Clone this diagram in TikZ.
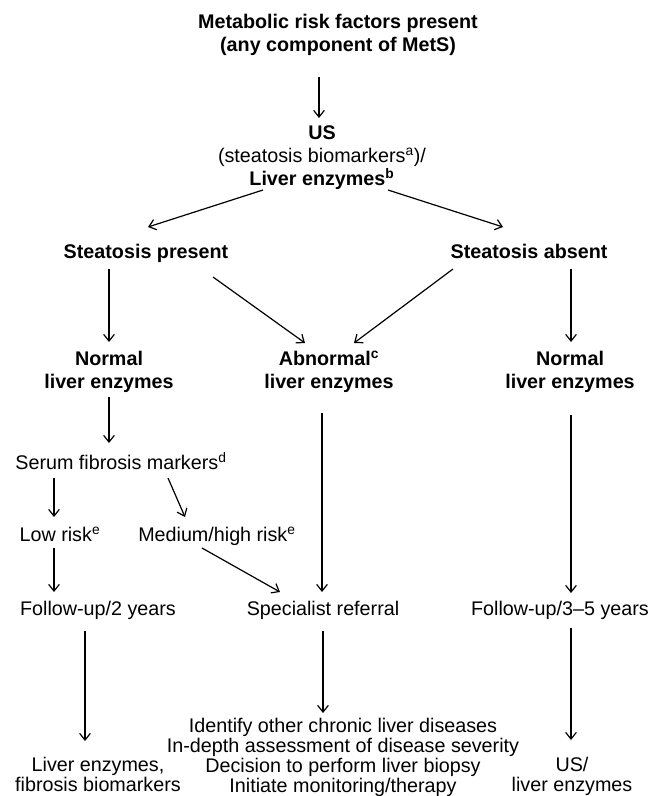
\documentclass[tikz,border=0pt]{standalone}
\usepackage{fontspec}
\setmainfont{Liberation Sans}
\usetikzlibrary{arrows.meta,calc}

\newcommand{\flowtext}[5][]{\node[#1] (#2) at (#3, #4) {#5};}

\begin{document}
\begin{tikzpicture}[x = 0.75pt, y = -0.75pt,   % 1 unit = 1 pixel, y nach unten
    every node/.style = {inner sep = 0pt, align = center,
                         font = \fontsize{14.8}{15}\selectfont},
    hd/.style = {font = \fontsize{14.8}{17.25}\selectfont\bfseries},
    ln/.style = {text height = 0.75em, text depth = 0.25em},
    arr/.style = {-{Straight Barb[length = 5pt, width = 8pt]}, line width = 0.9pt}]
  % Bounding box
  \useasboundingbox (0, 0) rectangle (662, 796);
  % oben
  \flowtext[hd]{title}{338}{34.5}{Metabolic risk factors present\\(any component of MetS)}
  \flowtext[hd]{us}{322}{157.5}{US\\\mdseries(steatosis biomarkers\textsuperscript{a})/\\Liver enzymes\textsuperscript{b}}
  % Steatose
  \flowtext[hd, ln]{stpres}{146}{255}{Steatosis present}
  \flowtext[hd, ln]{stabs}{529}{255}{Steatosis absent}
  % Leberenzyme
  \flowtext[hd]{normL}{109}{371.5}{Normal\\liver enzymes}
  \flowtext[hd]{abnorm}{329}{371.5}{Abnormal\textsuperscript{c}\\liver enzymes}
  \flowtext[hd]{normR}{570}{371.5}{Normal\\liver enzymes}
  % Fibrose
  \flowtext[ln]{serum}{121}{466}{Serum fibrosis markers\textsuperscript{d}}
  \flowtext[ln]{lowrisk}{60}{538}{Low risk\textsuperscript{e}}
  \flowtext[ln]{medrisk}{217}{538}{Medium/high risk\textsuperscript{e}}
  % Folgeschritte
  \flowtext[ln]{fu2}{98}{612}{Follow-up/2 years}
  \flowtext[ln]{referral}{323}{612}{Specialist referral}
  \flowtext[ln]{fu35}{560}{612}{Follow-up/3--5 years}
  % unten
  \flowtext{outL}{98}{774}{Liver enzymes,\\fibrosis biomarkers}
  \flowtext{outM}{343}{757}{Identify other chronic liver diseases\\In-depth assessment of disease severity\\Decision to perform liver biopsy\\Initiate monitoring/therapy}
  \flowtext{outR}{572}{776}{US/\\liver enzymes}
  % Pfeile
  \draw[arr] ($(title)+(-19,42.5)$) -- ($(us)+(-3,-39.5)$);
  \draw[arr] ($(us)+(-59,32.5)$) -- ($(stpres)+(2,-28)$);
  \draw[arr] ($(us)+(66,32.5)$) -- ($(stabs)+(-26,-28)$);
  \draw[arr] ($(stpres)+(-37,14)$) -- ($(normL)+(0,-29.5)$);
  \draw[arr] ($(stpres)+(67,22)$) -- ($(abnorm)+(-24,-28.5)$);
  \draw[arr] ($(stabs)+(-76,14)$) -- ($(abnorm)+(25,-28.5)$);
  \draw[arr] ($(stabs)+(42,14)$) -- ($(normR)+(1,-29.5)$);
  \draw[arr] ($(normL)+(0,25.5)$) -- ($(serum)+(-12,-23)$);
  \draw[arr] ($(abnorm)+(-7,41.5)$) -- ($(referral)+(-1,-20)$);
  \draw[arr] ($(normR)+(1,43.5)$) -- ($(fu35)+(11,-19)$);
  \draw[arr] ($(serum)+(-67,12)$) -- ($(lowrisk)+(-6,-21)$);
  \draw[arr] ($(serum)+(47,12)$) -- ($(medrisk)+(-32,-21)$);
  \draw[arr] ($(lowrisk)+(-6,10)$) -- ($(fu2)+(-44,-20)$);
  \draw[arr] ($(medrisk)+(-15,10)$) -- ($(referral)+(-43,-20)$);
  \draw[arr] ($(fu2)+(-13,19)$) -- ($(outL)+(-13,-33)$);
  \draw[arr] ($(referral)+(0,19)$) -- ($(outM)+(-20,-44)$);
  \draw[arr] ($(fu35)+(11,16)$) -- ($(outR)+(-1,-36)$);
\end{tikzpicture}
\end{document}
